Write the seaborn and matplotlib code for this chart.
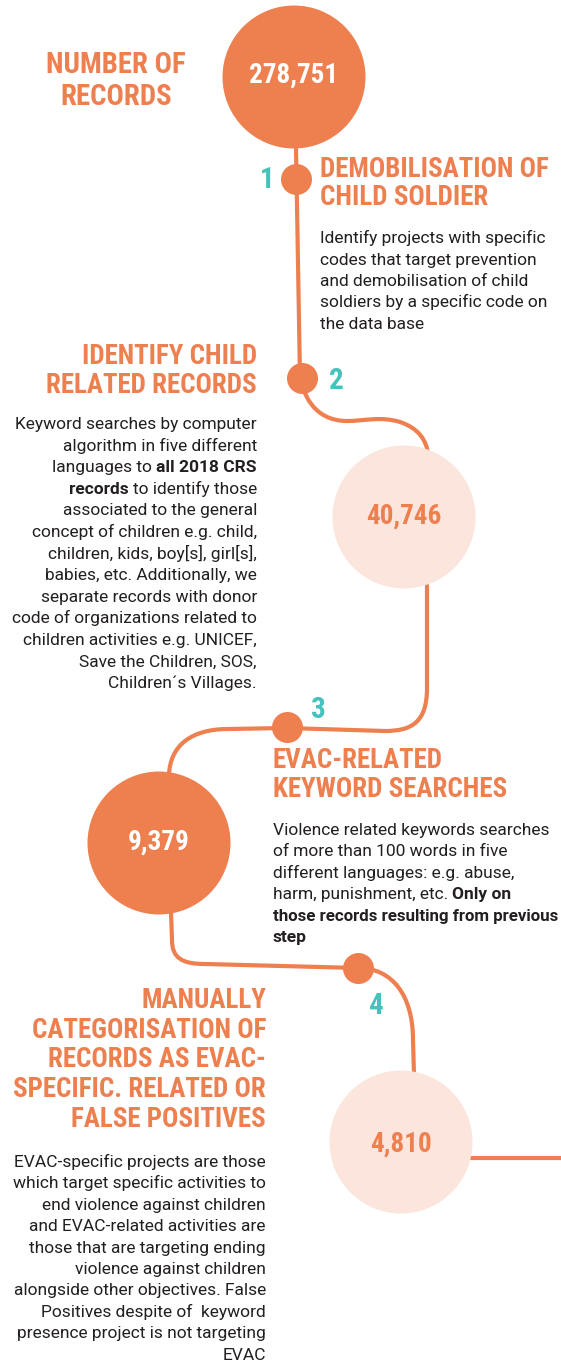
import matplotlib
matplotlib.use("Agg")
import matplotlib.pyplot as plt
import seaborn as sns
import pandas as pd
from matplotlib import font_manager as fm
from matplotlib.path import Path
from matplotlib.patches import PathPatch

# ---------------- data ----------------
counts = [278751, 40746, 9379, 4810]
count_labels = [f"{c:,}" for c in counts]
circle_kind = ["dark", "light", "dark", "light"]
step_numbers = ["1", "2", "3", "4"]
header_lines = ["NUMBER OF", "RECORDS"]
step_titles = [
    ["DEMOBILISATION OF", "CHILD SOLDIER"],
    ["IDENTIFY CHILD", "RELATED RECORDS"],
    ["EVAC-RELATED", "KEYWORD SEARCHES"],
    ["MANUALLY", "CATEGORISATION OF", "RECORDS AS EVAC-", "SPECIFIC. RELATED OR", "FALSE POSITIVES"],
]
step1_text = ["Identify projects with specific", "codes that target prevention",
              "and demobilisation of child", "soldiers by a specific code on", "the data base"]
step2_text = ["Keyword searches by computer", "algorithm in five different",
              [("languages to ", False), ("all 2018 CRS", True)],
              [("records ", True), ("to identify those", False)],
              "associated to the general", "concept of children e.g. child,",
              "children, kids, boy[s], girl[s],", "babies, etc. Additionally, we",
              "separate records with donor", "code of organizations related to",
              "children activities e.g. UNICEF,", "Save the Children, SOS,",
              "Children\u00b4s Villages."]
step3_text = ["Violence related keywords searches", "of more than 100 words in five",
              "different languages: e.g. abuse,",
              [("harm, punishment, etc. ", False), ("Only on", True)],
              [("those records resulting from previous", True)],
              [("step", True)]]
step4_text = ["EVAC-specific projects are those", "which target specific activities to",
              "end violence against children", "and EVAC-related activities are",
              "those that are targeting ending", "violence against children",
              "alongside other objectives. False", "Positives despite of  keyword",
              "presence project is not targeting", "EVAC"]
step_texts = [step1_text, step2_text, step3_text, step4_text]

# ---------------- layout (pixels) ----------------
circle_xy = [(294, 77), (404, 517), (159, 843), (401, 1142)]
label_baseline = [83, 524, 850, 1152]
dot_xy = [(296, 179), (302, 378), (287, 727), (358, 968)]
num_pos = [(267, 188), (336, 389), (318, 718), (376, 1014)]
title_layout = [(320, 177, 28, "left"), (257, 364, 29, "right"),
                (273, 768, 29, "left"), (266, 1008, 29.7, "right")]
body_layout = [(320, 243, 21.5, "left"), (257, 429, 21.6, "right"),
               (273, 835, 21.4, "left"), (266, 1167, 21.4, "right")]

ORANGE = "#EE7F4F"
LIGHT = "#FBE5DC"
TEAL = "#45C2BB"
DARK = "#231F20"

sns.set_theme(style="white")
names = {f.name for f in fm.fontManager.ttflist}


def pick(cands):
    for c in cands:
        if c in names:
            return c
    return "DejaVu Sans"


HEAD_FONT = pick(["Liberation Sans Narrow", "Roboto Condensed", "Roboto", "DejaVu Sans"])
BODY_FONT = pick(["Liberation Sans Narrow", "Roboto", "DejaVu Sans"])
plt.rcParams["font.family"] = [BODY_FONT, "DejaVu Sans"]

W, H = 561, 1362
fig = plt.figure(figsize=(W / 100, H / 100), dpi=100)
ax = fig.add_axes([0, 0, 1, 1])
ax.set_xlim(0, W)
ax.set_ylim(H, 0)
ax.axis("off")
renderer = fig.canvas.get_renderer()


def width(s, size, weight, family):
    t = ax.text(0, 0, s, fontsize=size, fontweight=weight, family=family)
    w = t.get_window_extent(renderer).width
    t.remove()
    return w


def seg_width(s, size, weight, family):
    return width("|" + s + "|", size, weight, family) - width("||", size, weight, family)


def fit(s, target, weight, family, base=20.0):
    return base * target / width(s, base, weight, family)


HEAD_SIZE = fit("KEYWORD SEARCHES", 234, "bold", HEAD_FONT)
TOP_SIZE = fit("NUMBER OF", 140, "bold", HEAD_FONT)
BODY_SIZE = fit("Violence related keywords searches", 277, "normal", BODY_FONT)
NUM_SIZE = fit("278,751", 89, "bold", HEAD_FONT)


def rich_line(x, y, segs, ha, size, color, family, max_w=None):
    if isinstance(segs, str):
        segs = [(segs, False)]
    ws = [seg_width(t, size, "bold" if b else "normal", family) for t, b in segs]
    total = sum(ws)
    if max_w is not None and total > max_w:
        size = size * max_w / total
        ws = [seg_width(t, size, "bold" if b else "normal", family) for t, b in segs]
        total = sum(ws)
    if ha == "right":
        cx = x - total
    elif ha == "center":
        cx = x - total / 2
    else:
        cx = x
    for (t, b), w in zip(segs, ws):
        ax.text(cx, y, t, fontsize=size, fontweight="bold" if b else "normal",
                family=family, color=color, ha="left", va="baseline", zorder=5)
        cx += w


# ---------------- connector path ----------------
M, L, C = Path.MOVETO, Path.LINETO, Path.CURVE4
verts, codes = [], []


def add(seq):
    for code, pts in seq:
        for p in pts:
            verts.append(p)
            codes.append(code)


add([(M, [(296, 148)]), (L, [(300, 378)])])
add([(M, [(301, 380)]), (C, [(306, 405), (322, 421), (347, 421)]),
     (C, [(365, 421), (380, 416), (400, 422)]), (C, [(418, 428), (427, 440), (428, 455)])])
add([(M, [(427, 585)]), (L, [(427, 688)]), (C, [(427, 722), (412, 731), (385, 731)]),
     (L, [(287, 728)])])
add([(M, [(287, 728)]), (L, [(228, 729)]), (C, [(192, 729), (170, 745), (169, 775)])])
add([(M, [(171, 912)]), (L, [(172, 940)]), (C, [(172, 958), (182, 964), (205, 964)]),
     (L, [(358, 968)])])
add([(M, [(358, 968)]), (C, [(392, 968), (413, 995), (413, 1040)]), (L, [(414, 1075)])])
add([(M, [(470, 1158)]), (L, [(561, 1158)])])
ax.add_patch(PathPatch(Path(verts, codes), fill=False, edgecolor=ORANGE, lw=3,
                       capstyle="round", joinstyle="round", zorder=1))

# ---------------- circles and dots ----------------
circ_df = pd.DataFrame({"x": [p[0] for p in circle_xy], "y": [p[1] for p in circle_xy],
                        "kind": circle_kind, "count": counts})
dot_df = pd.DataFrame({"x": [p[0] for p in dot_xy], "y": [p[1] for p in dot_xy],
                       "step": step_numbers})
n0 = len(ax.collections)
sns.scatterplot(data=circ_df, x="x", y="y", hue="kind",
                palette={"dark": ORANGE, "light": LIGHT}, s=(143 * 0.72) ** 2,
                linewidth=0, legend=False, ax=ax)
sns.scatterplot(data=dot_df, x="x", y="y", color=ORANGE, s=(31 * 0.72) ** 2,
                linewidth=0, legend=False, ax=ax)
for col in ax.collections[n0:]:
    col.set_zorder(2)
ax.set_xlim(0, W)
ax.set_ylim(H, 0)
ax.axis("off")

# ---------------- texts ----------------
for (cx, _), base, lab, kind in zip(circle_xy, label_baseline, count_labels, circle_kind):
    ax.text(cx, base, lab, ha="center", va="baseline", fontsize=NUM_SIZE, fontweight="bold",
            family=HEAD_FONT, color="white" if kind == "dark" else ORANGE, zorder=5)

for i, line in enumerate(header_lines):
    ax.text(116, 73 + 32 * i, line, ha="center", va="baseline", fontsize=TOP_SIZE,
            fontweight="bold", family=HEAD_FONT, color=ORANGE, zorder=5)

for (nx, ny), n in zip(num_pos, step_numbers):
    ax.text(nx, ny, n, ha="center", va="baseline", fontsize=21, fontweight="bold",
            family=HEAD_FONT, color=TEAL, zorder=5)

for (x, y0, pitch, ha), lines in zip(title_layout, step_titles):
    for i, line in enumerate(lines):
        ax.text(x, y0 + pitch * i, line, ha=ha, va="baseline", fontsize=HEAD_SIZE,
                fontweight="bold", family=HEAD_FONT, color=ORANGE, zorder=5)

for (x, y0, pitch, ha), lines in zip(body_layout, step_texts):
    max_w = (W - 2 - x) if ha == "left" else (x - 2)
    for i, line in enumerate(lines):
        rich_line(x, y0 + pitch * i, line, ha, BODY_SIZE, DARK, BODY_FONT, max_w=max_w)

fig.savefig("out.png", dpi=100, facecolor="white")
